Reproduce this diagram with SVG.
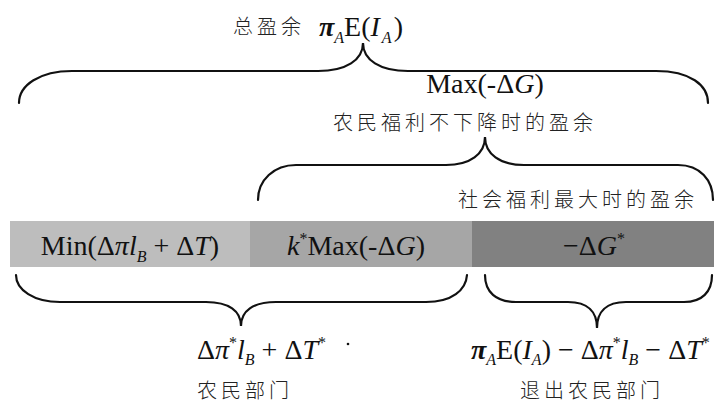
<svg xmlns="http://www.w3.org/2000/svg" width="723" height="406" viewBox="0 0 723 406">
<style>
.m{font-family:"Liberation Serif","Times New Roman",serif;font-size:28px;fill:#111}
.i{font-style:italic}
.s{font-size:16px;font-style:italic}
.sup{font-size:16px}
.c{font-family:"Noto Sans CJK SC","Noto Sans",sans-serif;font-size:20px;fill:#222;letter-spacing:4px;font-weight:300}
.b{fill:none;stroke:#111;stroke-width:2.2;stroke-linecap:round}
</style>
<rect width="723" height="406" fill="#fff"/>
<g id="bar">
<g id="seg1"><rect x="10" y="221" width="240" height="46" fill="#bdbdbd"/>
<text class="m" x="130" y="255" text-anchor="middle">Min(Δ<tspan class="i">πl</tspan><tspan class="s" dy="7">B</tspan><tspan dy="-7"> + Δ</tspan><tspan class="i">T</tspan>)</text></g>
<g id="seg2"><rect x="250" y="221" width="222" height="46" fill="#a6a6a6"/>
<text class="m" x="356" y="255" text-anchor="middle"><tspan class="i">k</tspan><tspan class="sup" dy="-11">*</tspan><tspan dy="11">Max(-Δ</tspan><tspan class="i">G</tspan>)</text></g>
<g id="seg3"><rect x="472" y="221" width="242" height="46" fill="#818181"/>
<text class="m" x="594" y="255" text-anchor="middle">−Δ<tspan class="i">G</tspan><tspan class="sup" dy="-11">*</tspan></text></g>
</g>
<g id="connectors">
<path class="b" d="M19,103 C19,85 40,71 72,71 L318,71 C346,71 363,60 363,43 C363,60 380,71 408,71 L656,71 C690,71 708,85 708,103"/>
<path class="b" d="M258,200 C258,180 274,165 296,165 L446,165 C470,165 485,154 485,137 C485,154 500,165 524,165 L678,165 C700,165 713,180 713,200"/>
<path class="b" d="M16,275 C16,290 34,302 60,302 L206,302 C229,302 241,311 241,326 C241,311 253,302 276,302 L426,302 C452,302 466,290 467,275"/>
<path class="b" d="M485,275 C485,292 496,302 516,302 L568,302 C588,302 597,312 597,328 C597,312 606,302 626,302 L684,302 C702,302 712,292 712,275"/>
</g>
<g id="total">
<text class="c" x="233" y="34">总盈余</text>
<text class="m" x="319" y="36"><tspan class="i" font-weight="bold">π</tspan><tspan class="s" dy="7">A</tspan><tspan dy="-7">E(</tspan><tspan class="i">I</tspan><tspan class="s" dy="7" dx="2">A</tspan><tspan dy="-7" dx="2">)</tspan></text>
</g>
<g id="maxG">
<text class="m" x="485" y="93" text-anchor="middle">Max(-Δ<tspan class="i">G</tspan>)</text>
<text class="c" x="333" y="130">农民福利不下降时的盈余</text>
</g>
<g id="social">
<text class="c" x="458" y="207">社会福利最大时的盈余</text>
</g>
<g id="farmer">
<text class="m" x="197" y="359">Δ<tspan class="i">π</tspan><tspan class="sup" dy="-11">*</tspan><tspan class="i" dy="11">l</tspan><tspan class="s" dy="6">B</tspan><tspan dy="-6"> + Δ</tspan><tspan class="i">T</tspan><tspan class="sup" dy="-11">*</tspan></text>
<circle cx="348" cy="344" r="1.3" fill="#111"/>
<text class="c" x="197" y="398">农民部门</text>
</g>
<g id="exit">
<text class="m" x="471" y="359"><tspan class="i" font-weight="bold">π</tspan><tspan class="s" dy="6">A</tspan><tspan dy="-6">E(</tspan><tspan class="i">I</tspan><tspan class="s" dy="6">A</tspan><tspan dy="-6">) − Δ</tspan><tspan class="i">π</tspan><tspan class="sup" dy="-11">*</tspan><tspan class="i" dy="11">l</tspan><tspan class="s" dy="6">B</tspan><tspan dy="-6"> − Δ</tspan><tspan class="i">T</tspan><tspan class="sup" dy="-11">*</tspan></text>
<text class="c" x="520" y="398">退出农民部门</text>
</g>
</svg>
